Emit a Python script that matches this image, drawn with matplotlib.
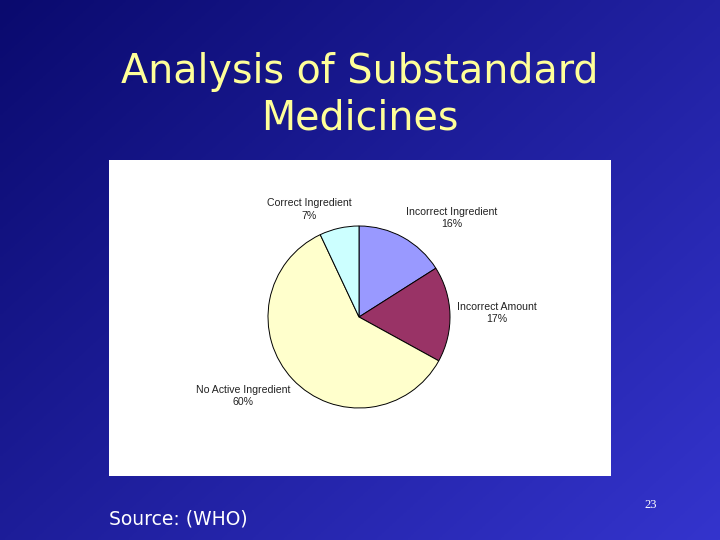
"""Slide: Analysis of Substandard Medicines (WHO) - pie chart."""
import numpy as np
import matplotlib
matplotlib.use("Agg")
import matplotlib.pyplot as plt
from matplotlib.patches import Rectangle

categories = ["Incorrect Ingredient", "Incorrect Amount", "No Active Ingredient", "Correct Ingredient"]
shares = [16, 17, 60, 7]
colors = ["#9999FF", "#993366", "#FFFFCC", "#CCFFFF"]
# label centres (axes fraction of the pie axes)
label_pos = [(1.011, 1.044), (1.258, 0.522), (-0.137, 0.066), (0.225, 1.091)]

fig = plt.figure(figsize=(7.2, 5.4), dpi=100)

# background: diagonal gradient dark navy -> royal blue
bg = fig.add_axes([0, 0, 1, 1])
tl = np.array([10, 10, 110]) / 255
br = np.array([52, 52, 205]) / 255
yy, xx = np.mgrid[0:1:200j, 0:1:200j]
t = (0.55 * xx + 0.45 * yy)[..., None]
bg.imshow(tl + (br - tl) * t, extent=[0, 1, 0, 1], aspect="auto", origin="upper")
bg.set_xlim(0, 1)
bg.set_ylim(0, 1)
bg.axis("off")

# white chart panel
bg.add_patch(Rectangle((109 / 720, 1 - 476 / 540), 502 / 720, 316 / 540,
                       facecolor="white", edgecolor="none"))

fig.text(0.5, 1 - 72 / 540, "Analysis of Substandard", color="#FFFF99",
         fontsize=28.5, ha="center", va="center", family="DejaVu Sans")
fig.text(0.5, 1 - 119 / 540, "Medicines", color="#FFFF99",
         fontsize=28.5, ha="center", va="center", family="DejaVu Sans")
fig.text(109 / 720, 1 - 519 / 540, "Source: (WHO)", color="white",
         fontsize=13.5, ha="left", va="center", family="DejaVu Sans")
fig.text(651 / 720, 1 - 505 / 540, "23", color="white",
         fontsize=9, ha="center", va="center", family="Liberation Serif")

ax = fig.add_axes([268 / 720, 1 - 408 / 540, 182 / 720, 182 / 540])
ax.pie(shares, colors=colors, startangle=90, counterclock=False, radius=1,
       wedgeprops=dict(edgecolor="black", linewidth=0.7))
ax.set_xlim(-1, 1)
ax.set_ylim(-1, 1)
ax.set_aspect("equal")
ax.axis("off")

for name, val, (x, y) in zip(categories, shares, label_pos):
    ax.text(x, y, f"{name}\n{val}%", transform=ax.transAxes, ha="center", va="center",
            fontsize=7.6, color="#222222", family="Liberation Sans", linespacing=1.35)

fig.savefig("out.png", dpi=100)
